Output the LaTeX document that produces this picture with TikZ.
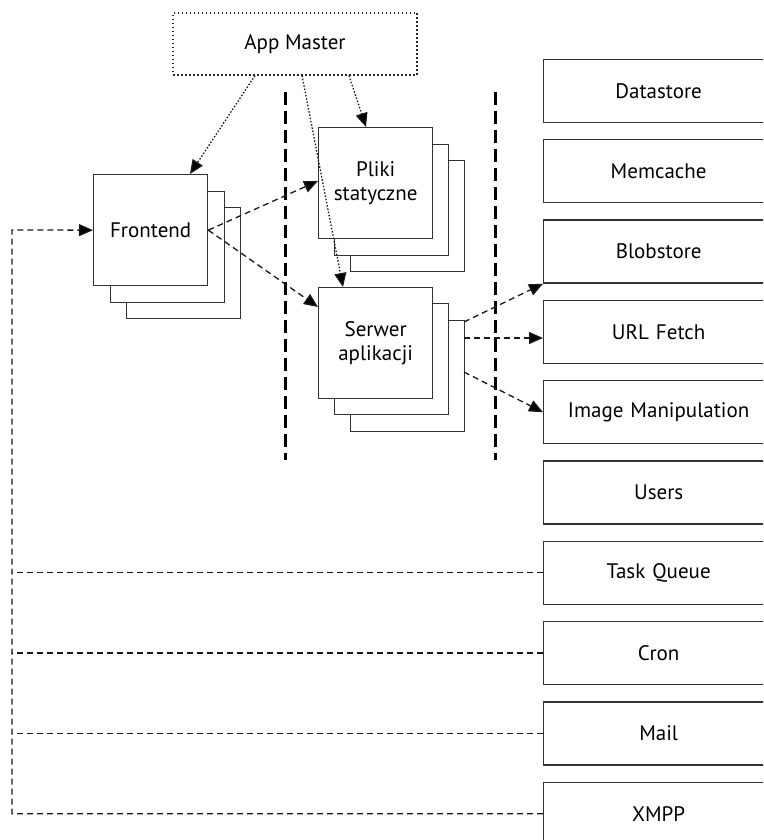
\documentclass[tikz,border=0pt]{standalone}
\usepackage{fontspec}
\setmainfont{PT Sans}
\usetikzlibrary{arrows.meta,calc}
\begin{document}
\begin{tikzpicture}[x=1pt,y=-1pt,
  every node/.style={font=\fontsize{21}{23.5}\selectfont},
  stackbox/.style={draw=black!80,line width=1.3pt,fill=white,minimum width=114pt,minimum height=111pt,inner sep=0pt,align=center,anchor=north west},
  svcbox/.style={draw=black!80,line width=1.3pt,fill=white,minimum width=230pt,minimum height=63pt,inner sep=0pt,anchor=west,text width=222pt,align=center},
  masterbox/.style={draw=black!85,line width=1.1pt,dash pattern=on 1.5pt off 2.5pt,minimum width=244pt,minimum height=62pt,inner sep=0pt},
  divider/.style={draw=black,line width=3pt,dash pattern=on 13pt off 6pt},
  conn/.style={draw=black!90,line width=1.3pt,dash pattern=on 6pt off 4pt},
  dotconn/.style={draw=black!90,line width=1.3pt,dash pattern=on 1.5pt off 1.8pt},
  tip/.style={-{Triangle[length=14pt,width=12pt,fill=black]}}
]
\clip (0,0) rectangle (763,840);
\useasboundingbox (0,0) rectangle (763,840);

% dividers
\coordinate (d1t) at (285,92); \coordinate (d1b) at (285,460);
\coordinate (d2t) at (495,92); \coordinate (d2b) at (495,460);
\draw[divider] (d1t) -- (d1b);
\draw[divider] (d2t) -- (d2b);

% App Master
\node[masterbox] (am) at (295,44) {App Master};

% Frontend stack
\node[stackbox] (fe3) at (126,207) {};
\node[stackbox] (fe2) at (110,191) {};
\node[stackbox] (fe) at (93,174) {Frontend};

% Pliki statyczne stack
\node[stackbox] (ps3) at (350,160) {};
\node[stackbox] (ps2) at (334,144) {};
\node[stackbox] (ps) at (318,127) {Pliki\\statyczne};

% Serwer aplikacji stack
\node[stackbox] (sv3) at (350,320) {};
\node[stackbox] (sv2) at (334,303) {};
\node[stackbox] (sv) at (318,287) {Serwer\\aplikacji};

% service boxes
\node[svcbox] (ds) at (543,91) {Datastore};
\node[svcbox] (mc) at (543,171.3) {Memcache};
\node[svcbox] (bs) at (543,251.6) {Blobstore};
\node[svcbox] (uf) at (543,331.9) {URL Fetch};
\node[svcbox] (im) at (543,412.2) {Image Manipulation};
\node[svcbox] (us) at (543,492.5) {Users};
\node[svcbox] (tq) at (543,572.8) {Task Queue};
\node[svcbox] (cr) at (543,653.1) {Cron};
\node[svcbox] (ml) at (543,733.4) {Mail};
\node[svcbox] (xm) at (543,813.7) {XMPP};

% App Master connectors
\draw[dotconn,tip] (am.south -| 255,0) -- (fe.north -| 190,0);
\draw[dotconn,tip] (am.south -| 302,0) -- (sv.north -| 343,0);
\draw[dotconn,tip] (am.south -| 349,0) -- (ps.north -| 366,0);

% Frontend connectors
\draw[conn,tip] (fe.east) -- (ps.west |- 0,181);
\draw[conn,tip] (fe.east) -- (sv.west |- 0,307);

% Serwer connectors
\coordinate (s1) at (464,322);
\coordinate (s2) at (464,338);
\coordinate (s3) at (464,372);
\draw[conn,tip] (s1) -- (bs.south west);
\draw[conn,tip] (s2) -- (uf.west |- s2);
\draw[conn,tip] (s3) -- (im.west);

% left feedback lines
\coordinate (lc) at (12,230);
\draw[conn,tip] (xm.west) -| (lc) -- (fe.west);
\draw[conn] (tq.west) -- (tq.west -| lc);
\draw[conn] (cr.west) -- (cr.west -| lc);
\draw[conn] (ml.west) -- (ml.west -| lc);
\end{tikzpicture}
\end{document}
